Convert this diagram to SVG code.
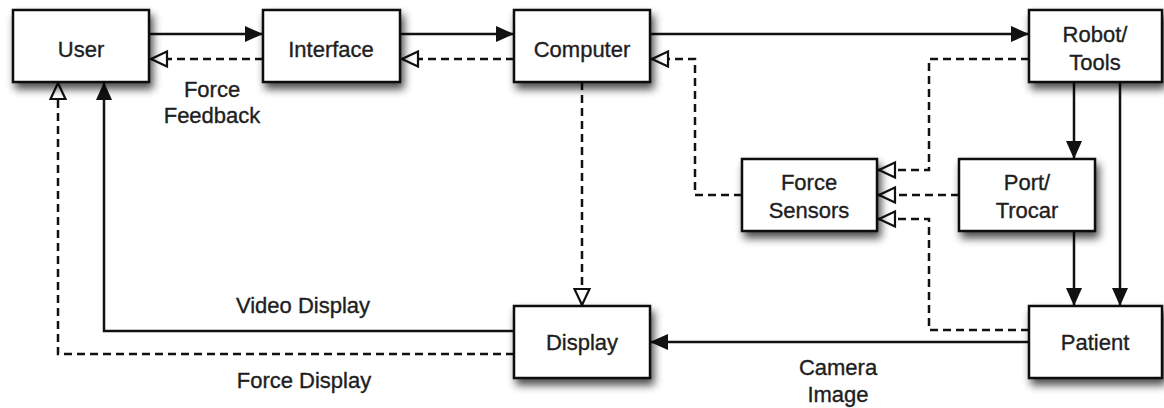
<svg xmlns="http://www.w3.org/2000/svg" width="1164" height="408" viewBox="0 0 1164 408">
<style>
.box{fill:#fff;stroke:#111;stroke-width:2.5;filter:url(#sh)}
.t{font-family:"Liberation Sans",Arial,sans-serif;font-size:22px;fill:#1e1e1e;stroke:#1e1e1e;stroke-width:0.35;text-anchor:middle}
.s{fill:none;stroke:#111;stroke-width:2.5;marker-end:url(#fa)}
.d{fill:none;stroke:#111;stroke-width:2.5;stroke-dasharray:8 5;marker-end:url(#oa)}
</style>
<defs>
<filter id="sh" x="-20%" y="-20%" width="150%" height="160%">
<feGaussianBlur in="SourceAlpha" stdDeviation="4"/>
<feOffset dx="3" dy="6" result="b"/>
<feComponentTransfer><feFuncA type="linear" slope="0.7"/></feComponentTransfer>
<feMerge><feMergeNode/><feMergeNode in="SourceGraphic"/></feMerge>
</filter>
<marker id="fa" markerUnits="userSpaceOnUse" markerWidth="20" markerHeight="16" refX="18" refY="8" orient="auto" overflow="visible">
<path d="M0,0 L18,8 L0,16 z" fill="#111"/>
</marker>
<marker id="oa" markerUnits="userSpaceOnUse" markerWidth="20" markerHeight="16" refX="18" refY="7.5" orient="auto" overflow="visible">
<path d="M1,0 L17,7.5 L1,15 z" fill="#fff" stroke="#111" stroke-width="2.2" stroke-dasharray="none"/>
</marker>
</defs>
<rect width="1164" height="408" fill="#fff"/>
<g id="connectors">
<path class="s" d="M149,34 H263"/>
<path class="d" d="M263,59 H150"/>
<path class="s" d="M400,34 H514"/>
<path class="d" d="M514,59 H401"/>
<path class="s" d="M650,34 H1029"/>
<path class="d" d="M742,195 H695 V59 H651"/>
<path class="d" d="M582,82 V306"/>
<path class="d" d="M1029,59 H929 V170 H878"/>
<path class="d" d="M959,195 H878"/>
<path class="d" d="M1029,330 H929 V219 H878"/>
<path class="s" d="M1074,82 V159"/>
<path class="s" d="M1120,82 V306"/>
<path class="s" d="M1074,231 V306"/>
<path class="s" d="M1029,342 H650"/>
<path class="s" d="M514,331 H104 V82"/>
<path class="d" d="M514,354 H58 V82"/>
<text class="t" x="212" y="97">Force</text>
<text class="t" x="212" y="123">Feedback</text>
<text class="t" x="303" y="313">Video Display</text>
<text class="t" x="304" y="388">Force Display</text>
<text class="t" x="838" y="375">Camera</text>
<text class="t" x="838" y="402">Image</text>
</g>
<g id="user"><rect class="box" x="13" y="10" width="136" height="72"/><text class="t" x="81" y="57">User</text></g>
<g id="interface"><rect class="box" x="263" y="10" width="137" height="72"/><text class="t" x="331" y="57">Interface</text></g>
<g id="computer"><rect class="box" x="514" y="10" width="136" height="72"/><text class="t" x="582" y="57">Computer</text></g>
<g id="robot-tools"><rect class="box" x="1029" y="10" width="133" height="72"/><text class="t" x="1095" y="42">Robot/</text><text class="t" x="1095" y="70">Tools</text></g>
<g id="force-sensors"><rect class="box" x="742" y="159" width="135" height="72"/><text class="t" x="809" y="190">Force</text><text class="t" x="809" y="218">Sensors</text></g>
<g id="port-trocar"><rect class="box" x="959" y="159" width="136" height="72"/><text class="t" x="1027" y="190">Port/</text><text class="t" x="1027" y="218">Trocar</text></g>
<g id="display"><rect class="box" x="514" y="306" width="136" height="72"/><text class="t" x="582" y="350">Display</text></g>
<g id="patient"><rect class="box" x="1029" y="306" width="133" height="72"/><text class="t" x="1095" y="350">Patient</text></g>
</svg>
